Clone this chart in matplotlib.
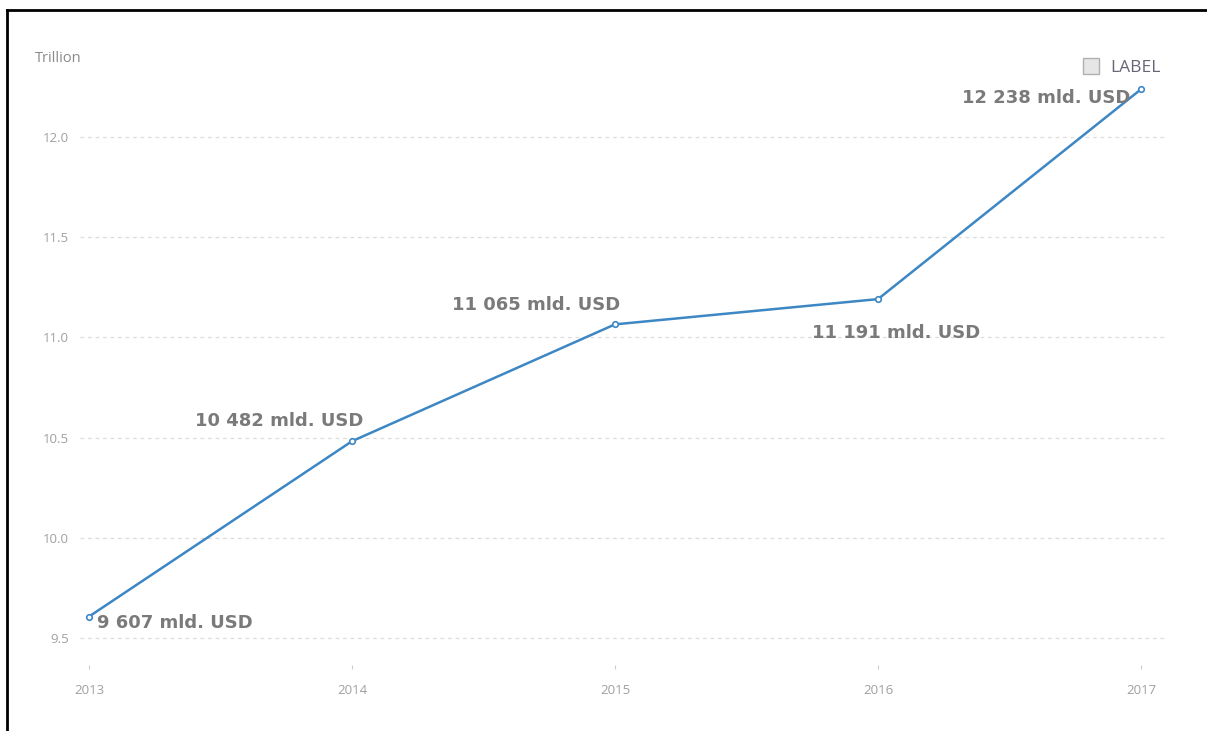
import matplotlib.pyplot as plt
from matplotlib.lines import Line2D

years = [2013, 2014, 2015, 2016, 2017]
values = [9.607, 10.482, 11.065, 11.191, 12.238]
labels = ['9 607 mld. USD', '10 482 mld. USD', '11 065 mld. USD',
          '11 191 mld. USD', '12 238 mld. USD']
yticks = [9.5, 10.0, 10.5, 11.0, 11.5, 12.0]

W, H = 1207, 731
fig = plt.figure(figsize=(W / 100, H / 100), dpi=100)
ax = fig.add_axes([80 / W, 1 - 665 / H, 1088 / W, (665 - 60) / H])

line_color = '#3d87c4'
ax.plot(years, values, color=line_color, lw=1.8, marker='o', ms=4,
        mfc='white', mec=line_color, mew=1.2, zorder=3)

ax.set_xlim(2013 - 9 / 263, 2017 + 27 / 263)
ax.set_ylim(9.5 - 27 / 200.5, 12.0 + 77 / 200.5)
ax.set_xticks(years)
ax.set_yticks(yticks)
ax.set_yticklabels([f'{v:.1f}' for v in yticks])
for s in ax.spines.values():
    s.set_visible(False)
ax.yaxis.grid(True, color='#dddddd', lw=0.9, ls=(0, (3, 3)))
ax.tick_params(axis='y', length=0, pad=8, labelsize=9.5, labelcolor='#a0a0a0')
ax.tick_params(axis='x', length=3, width=0.8, color='#cccccc', pad=11,
               labelsize=9.5, labelcolor='#a0a0a0')
for t in ax.get_xticklabels() + ax.get_yticklabels():
    t.set_fontfamily('Open Sans')

# value labels
offsets = [(8, -6, 'left'), (-73, 20, 'center'), (-79, 19, 'center'),
           (18, -34, 'center'), (-11, -9, 'right')]
for x, y, lab, (dx, dy, ha) in zip(years, values, labels, offsets):
    ax.annotate(lab, (x, y), xytext=(dx, dy), textcoords='offset pixels',
                ha=ha, va='center', fontsize=13, fontweight='bold',
                color='#7a7a7a', family='DejaVu Sans', zorder=4)

fig.text(35 / W, 1 - 59 / H, 'Trillion', fontsize=10.5, color='#8a8a8a',
         family='Open Sans', va='center')

handle = Line2D([], [], marker='s', ls='none', ms=11, mfc='#e6e6e6',
                mec='#b0b0b0', mew=1)
fig.legend([handle], ['LABEL'], loc='center right',
           bbox_to_anchor=(1176 / W, 1 - 68 / H), frameon=False,
           handletextpad=0.6, prop={'family': 'Open Sans', 'size': 12.5},
           labelcolor='#666677', handlelength=1.0)

# screenshot border (top and left)
fig.add_artist(Line2D([7 / W, 1], [1 - 10 / H, 1 - 10 / H], color='black',
                      lw=2, transform=fig.transFigure))
fig.add_artist(Line2D([7 / W, 7 / W], [0, 1 - 10 / H], color='black',
                      lw=2, transform=fig.transFigure))

fig.savefig('out.png', dpi=100)
